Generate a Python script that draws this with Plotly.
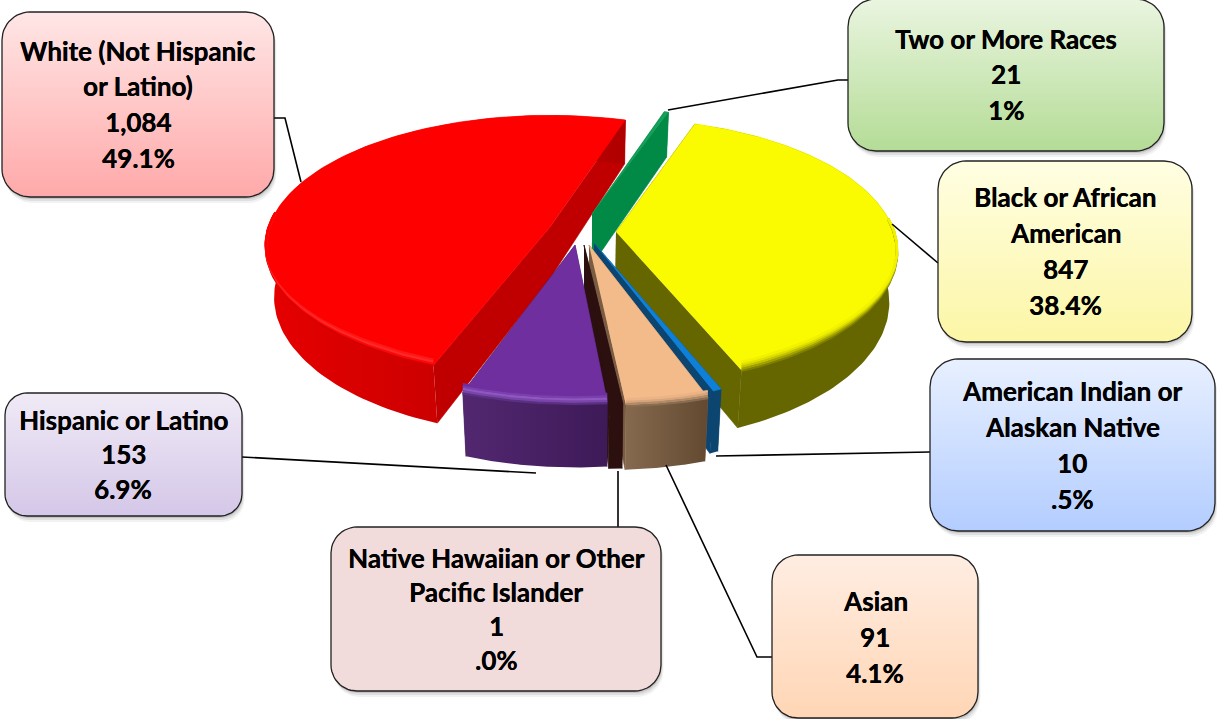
import numpy as np
import plotly.graph_objects as go

# ---------- data ----------
categories = ["White (Not Hispanic or Latino)", "Two or More Races", "Black or African American",
              "American Indian or Alaskan Native", "Asian", "Native Hawaiian or Other Pacific Islander",
              "Hispanic or Latino"]
counts = [1084, 21, 847, 10, 91, 1, 153]
count_labels = ["1,084", "21", "847", "10", "91", "1", "153"]
pct_labels = ["49.1%", "1%", "38.4%", ".5%", "4.1%", ".0%", "6.9%"]
name_lines = [["White (Not Hispanic", "or Latino)"], ["Two or More Races"], ["Black or African", "American"],
              ["American Indian or", "Alaskan Native"], ["Asian"], ["Native Hawaiian or Other", "Pacific Islander"],
              ["Hispanic or Latino"]]

# ---------- layout of the 3-D look ----------
W, H = 1217, 719
START = -111.0     # white slice starts here and runs clockwise
K, VX, VS = 0.146, 590, 0.975
FONT = "Lato"
FS = 26

style = {
    0: dict(apex=(550, 227), a=281, b=128, rot=0, depth=50, top="#FF0000", wall=["#E60000", "#B00000"], face="#C00000",
            bevel=["#D40000", "#F80808", "#FF2A2A", "#FF1818", "#FF0000"]),
    1: dict(apex=(592, 214), a=240, b=124, rot=0, depth=51, span_scale=0.35, top="#16A05A",
            wall=["#008A45", "#008A45"], face="#008A45", bevel=[]),
    2: dict(apex=(616, 232), a=278, b=130, rot=2.4, depth=50, top="#FAFA00", wall=["#666600", "#666600"], face="#666600",
            bevel=["#808000", "#A0A000", "#C4C400", "#E0E000", "#F2F200"]),
    3: dict(apex=(594, 243), a=275, b=138, rot=3, depth=54, top="#0F80D8", wall=["#0B4570", "#0B4570"], face="#0B4570", bevel=[]),
    4: dict(apex=(589, 245), a=281, b=137, rot=-2, sh=0.155, depth=55, top="#F4BB8A", wall=["#866A50", "#62492F"], face="#7A5C42",
            bevel=["#8A6C50", "#B08A68", "#D8A57A", "#ECB486"]),
    5: dict(apex=(584, 245), a=281, b=136, rot=-2, sh=0.155, depth=55, top="#2C1010", wall=["#2C1010", "#2C1010"], face="#2C1010",
            bevel=[], min_span=2.4),
    6: dict(apex=(575, 245), a=290, b=135, rot=1.5, depth=55, top="#6F2F9F", wall=["#522770", "#3E1A58"], face="#3E1A58",
            bevel=["#5A3080", "#7A45AA", "#8E58C0", "#7C40AE", "#6F2F9F"]),
}
draw_order = [0, 1, 2, 3, 4, 5, 6]

boxes = [
    dict(x0=2, x1=274, y0=12, y1=197, r=28, c=("#FFE6E6", "#FFA9A9"), cx=138, ly=[51, 86, 122, 158]),
    dict(x0=848, x1=1164, y0=-1, y1=151, r=28, c=("#EAF5E0", "#B4DC96"), cx=1006, ly=[39, 74, 110]),
    dict(x0=938, x1=1192, y0=161, y1=342, r=28, c=("#FFFEE2", "#FCF6A6"), cx=1065, ly=[197, 233, 269, 305]),
    dict(x0=930, x1=1215, y0=359, y1=531, r=28, c=("#E8F0FF", "#B3CDFF"), cx=1072, ly=[391, 427, 463, 499]),
    dict(x0=772, x1=978, y0=555, y1=718, r=26, c=("#FFEDE2", "#FFD6B5"), cx=875, ly=[601, 637, 673]),
    dict(x0=331, x1=661, y0=527, y1=691, r=26, c=("#F2DCDB", "#F2DCDB"), cx=496, ly=[558, 592, 626, 660]),
    dict(x0=5, x1=242, y0=393, y1=516, r=22, c=("#F0EAF6", "#D4C7E8"), cx=123, ly=[420, 454, 489]),
]
leaders = [
    ([274, 285, 301], [118, 118, 182]),
    ([668, 838, 848], [110, 80, 80]),
    ([892, 937, 938], [224, 263, 263]),
    ([716, 930], [456, 452]),
    ([666, 757, 772], [465, 657, 657]),
    ([618, 618], [471, 527]),
    ([242, 536], [457, 473]),
]


def rim(g, t_deg, low=False):
    t = np.radians(t_deg + g["rot"])
    X, Y = np.cos(t), np.sin(t)
    p = 1 / (1 + K * Y)
    x = g["apex"][0] + g["a"] * X * p + g.get("sh", 0) * (-g["b"] * Y * p)
    y = g["apex"][1] - g["b"] * Y * p
    if low:
        x = VX + (x - VX) * VS
        y = y + g["depth"] * p
    return x, y


def apex_pt(g, low=False):
    x, y = g["apex"]
    if low:
        return VX + (x - VX) * VS, y + g["depth"]
    return x, y


def poly(fig, xs, ys, color=None, grad=None, gtype="horizontal", seam=False):
    kw = dict(x=list(xs), y=list(ys), mode="lines", fill="toself",
              hoverinfo="skip", showlegend=False)
    kw["line"] = dict(width=0.6, color=color) if seam else dict(width=0)
    if grad:
        kw["fillgradient"] = dict(type=gtype, colorscale=[[0, grad[0]], [1, grad[1]]])
    else:
        kw["fillcolor"] = color
    fig.add_trace(go.Scatter(**kw))


fig = go.Figure()

# slice spans from the values, clockwise from START
total = sum(counts)
spans = []
cur = START
for v in counts:
    sweep = 360 * v / total
    spans.append((cur, cur - sweep))
    cur -= sweep

for i in draw_order:
    g = style[i]
    s, e = spans[i]
    ms = g.get("min_span")
    if ms and abs(s - e) < ms:
        s = s + ms * 0.15
        e = s - ms
    if "span_scale" in g:
        s = e + (s - e) * g["span_scale"]
    ts = np.linspace(s, e, 120)
    xt, yt = rim(g, ts)
    xb, yb = rim(g, ts, True)
    ax, ay = apex_pt(g)
    axb, ayb = apex_pt(g, True)
    r1x, r1y = rim(g, s)
    r2x, r2y = rim(g, e)
    r1xb, r1yb = rim(g, s, True)
    r2xb, r2yb = rim(g, e, True)
    if abs(s - e) > 170:
        # nearly a half disc: both cut faces as one shape, so that no seam shows at the centre
        poly(fig, [r1x, ax, r2x, r2xb, axb, r1xb], [r1y, ay, r2y, r2yb, ayb, r1yb], color=g["face"], seam=True)
    else:
        poly(fig, [ax, r1x, r1xb, axb], [ay, r1y, r1yb, ayb], color=g["face"], seam=True)
        poly(fig, [ax, r2x, r2xb, axb], [ay, r2y, r2yb, ayb], color=g["face"], seam=True)
    # outer wall
    poly(fig, np.r_[xt, xb[::-1]], np.r_[yt, yb[::-1]], grad=g["wall"])
    # top
    poly(fig, np.r_[ax, xt], np.r_[ay, yt], color=g["top"], seam=True)
    # rounded rim, front part only
    sin_t = np.sin(np.radians(ts + g["rot"]))
    for j, col in enumerate(g["bevel"]):
        lift = 2.2 * j * np.clip(-sin_t + 0.15, 0, 1)
        yy = np.where(sin_t < 0.12, yt - lift + 0.6, np.nan)
        fig.add_trace(go.Scatter(x=xt, y=yy, mode="lines", line=dict(color=col, width=2.6),
                                 hoverinfo="skip", showlegend=False))

# leader lines
for lx, ly in leaders:
    fig.add_trace(go.Scatter(x=lx, y=ly, mode="lines", line=dict(color="#000000", width=1.6),
                             hoverinfo="skip", showlegend=False))


def rounded(b, dx=0, dy=0):
    r = b["r"]
    corners = [(b["x1"] - r, b["y0"] + r, -90, 0), (b["x1"] - r, b["y1"] - r, 0, 90),
               (b["x0"] + r, b["y1"] - r, 90, 180), (b["x0"] + r, b["y0"] + r, 180, 270)]
    xs, ys = [], []
    for cx, cy, a0, a1 in corners:
        tt = np.radians(np.linspace(a0, a1, 14))
        xs += list(cx + r * np.cos(tt) + dx)
        ys += list(cy + r * np.sin(tt) + dy)
    return xs + xs[:1], ys + ys[:1]


annotations = []
for i, b in enumerate(boxes):
    for off, alpha in ((6, 0.05), (4, 0.08), (2, 0.12)):
        sx, sy = rounded(b, off * 0.4, off)
        poly(fig, sx, sy, color=f"rgba(0,0,0,{alpha})")
    xs, ys = rounded(b)
    fig.add_trace(go.Scatter(x=xs, y=ys, mode="lines", fill="toself",
                             line=dict(color="#222222", width=1.3),
                             fillgradient=dict(type="vertical", colorscale=[[0, b["c"][1]], [1, b["c"][0]]]),
                             hoverinfo="skip", showlegend=False))
    lines = name_lines[i] + [count_labels[i], pct_labels[i]]
    for txt, y in zip(lines, b["ly"]):
        annotations.append(dict(x=b["cx"], y=y, xref="x", yref="y", text=txt, showarrow=False,
                                xanchor="center", yanchor="middle",
                                font=dict(family=FONT, size=FS, color="#000000", weight=700,
                                          shadow="0.35px 0 0 #000000")))

fig.update_layout(
    width=W, height=H, margin=dict(l=0, r=0, t=0, b=0), autosize=False,
    paper_bgcolor="#FFFFFF", plot_bgcolor="#FFFFFF", showlegend=False,
    xaxis=dict(range=[0, W], visible=False, fixedrange=True),
    yaxis=dict(range=[H, 0], visible=False, fixedrange=True),
    annotations=annotations,
)
fig.write_html("out.html", config=dict(displayModeBar=False),
               post_script="document.body.style.margin='0';document.documentElement.style.overflow='hidden';")
